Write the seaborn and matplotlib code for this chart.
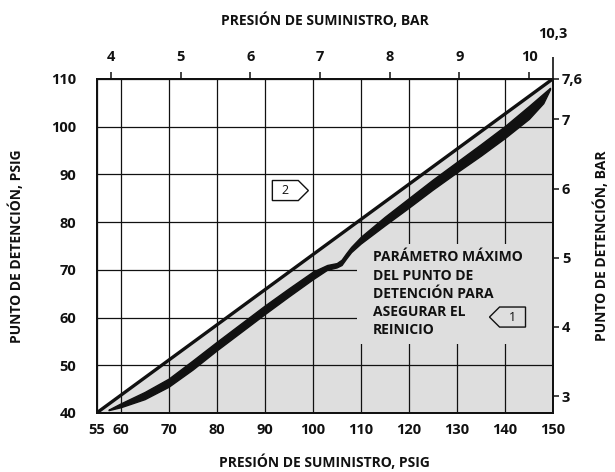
import matplotlib
matplotlib.use("Agg")
import matplotlib.pyplot as plt
import matplotlib.ticker as mticker
from matplotlib.patches import Polygon, Rectangle
import seaborn as sns
import pandas as pd

sns.set_theme(style="white")
plt.rcParams['font.family'] = ['Open Sans', 'DejaVu Sans']
plt.rcParams['font.weight'] = 'bold'

PSI_PER_BAR = 14.5038

# ---- data ----
x_ticks_psig = [55, 60, 70, 80, 90, 100, 110, 120, 130, 140, 150]
y_ticks_psig = [40, 50, 60, 70, 80, 90, 100, 110]
top_ticks_bar = [4, 5, 6, 7, 8, 9, 10]
top_end_label = "10,3"
right_ticks_bar = [3, 4, 5, 6, 7]
right_end_psig = 110
right_end_label = "7,6"

diag_x = [55, 150]
diag_y = [40, 110]

band_x =     [57.5, 60,   65,   70,   75,   80,   85,   90,   95,   100,  103,  105,  106,  107,  108,  110,  115,  120,  125,  130,  135,  140,   145,   148,   149.4]
band_upper = [40.7, 42.0, 44.4, 47.2, 51.0, 54.9, 58.7, 62.5, 66.1, 69.6, 71.0, 71.4, 72.1, 73.5, 74.8, 76.9, 81.1, 85.0, 88.9, 92.6, 96.3, 100.1, 104.3, 106.9, 108.1]
band_lower = [40.6, 41.2, 42.9, 45.5, 49.1, 53.1, 56.9, 60.7, 64.4, 68.0, 70.0, 70.5, 71.0, 72.4, 73.7, 75.5, 79.3, 83.0, 86.8, 90.4, 93.9, 97.6,  101.6, 104.9, 107.8]

note_lines = ["PARÁMETRO MÁXIMO", "DEL PUNTO DE", "DETENCIÓN PARA", "ASEGURAR EL", "REINICIO"]
note_x = 112.6
note_y = [72.6, 68.8, 65.0, 61.2, 57.4]
note_box = (109.3, 54.4, 150, 75.5)   # x0, y0, x1, y1 in psig

callouts = [("1", 141.6, 60.1, "left"), ("2", 94.3, 86.6, "right")]

df_diag = pd.DataFrame({"x": diag_x, "y": diag_y})

# ---- figure ----
fig = plt.figure(figsize=(6.15, 4.72), dpi=100)
ax = fig.add_axes([0.157, 0.125, 0.742, 0.708])
ax.set_xlim(55, 150)
ax.set_ylim(40, 110)

GRAY = "#dedede"
BLACK = "#111111"

# gray area under the diagonal
ax.fill_between(diag_x, [40, 40], diag_y, color=GRAY, lw=0, zorder=1)

# grid
ax.set_xticks(x_ticks_psig)
ax.set_yticks(y_ticks_psig)
ax.set_axisbelow('line')
ax.grid(True, color=BLACK, lw=0.9)

# note background box hiding grid
ax.add_patch(Rectangle((note_box[0], note_box[1]), note_box[2] - note_box[0],
                       note_box[3] - note_box[1], facecolor=GRAY, edgecolor='none', zorder=1.7))
for line, yy in zip(note_lines, note_y):
    ax.text(note_x, yy, line, fontsize=10, fontweight='bold',
            ha='left', va='center', color=BLACK, zorder=3)

# band
ax.fill_between(band_x, band_lower, band_upper, color=BLACK, lw=1.0, edgecolor=BLACK, zorder=2.2)

# diagonal
sns.lineplot(data=df_diag, x="x", y="y", ax=ax, color=BLACK, lw=2.4, zorder=3)
ax.set_xlabel("")
ax.set_ylabel("")

# callouts
w, h, p = 5.4, 4.2, 2.1
for lab, cx, cy, d in callouts:
    x0, x1 = cx - w / 2, cx + w / 2
    if d == "left":
        pts = [(x1, cy + h / 2), (x0, cy + h / 2), (x0 - p, cy), (x0, cy - h / 2), (x1, cy - h / 2)]
        fc = 'none'
    else:
        pts = [(x0, cy + h / 2), (x1, cy + h / 2), (x1 + p, cy), (x1, cy - h / 2), (x0, cy - h / 2)]
        fc = 'white'
    ax.add_patch(Polygon(pts, closed=True, facecolor=fc, edgecolor=BLACK, lw=1.0, zorder=3))
    ax.text(cx, cy, lab, fontsize=9, fontweight='normal', ha='center', va='center', color=BLACK, zorder=4)

# spines
for s in ax.spines.values():
    s.set_color(BLACK)
    s.set_linewidth(1.2)

ax.tick_params(axis='both', length=0, labelsize=10.5, colors=BLACK)
ax.tick_params(axis='y', pad=14.5)
ax.tick_params(axis='x', pad=7)
ax.set_xticklabels([str(v) for v in x_ticks_psig], fontweight='bold')
ax.set_yticklabels([str(v) for v in y_ticks_psig], fontweight='bold')

ax.set_xlabel("PRESIÓN DE SUMINISTRO, PSIG", fontsize=10, fontweight='bold', color=BLACK)
ax.xaxis.set_label_coords(0.5, -0.125)
ax.set_ylabel("PUNTO DE DETENCIÓN, PSIG", fontsize=10, fontweight='bold', color=BLACK)
ax.yaxis.set_label_coords(-0.158, 0.5)

# top axis (bar)
axt = ax.twiny()
axt.set_xlim(ax.get_xlim())
axt.set_xticks([b * PSI_PER_BAR for b in top_ticks_bar])
axt.set_xticklabels([str(b) for b in top_ticks_bar], fontweight='bold')
axt.xaxis.set_minor_locator(mticker.FixedLocator([150]))
axt.xaxis.set_minor_formatter(mticker.FixedFormatter([top_end_label]))
axt.tick_params(axis='x', which='major', direction='out', length=5, width=1.1, pad=6,
                labelsize=10.5, colors=BLACK)
axt.tick_params(axis='x', which='minor', direction='out', length=16, width=1.2, pad=11,
                labelsize=10.5, colors=BLACK)
for lbl in axt.xaxis.get_minorticklabels():
    lbl.set_fontweight('bold')
axt.set_xlabel("PRESIÓN DE SUMINISTRO, BAR", fontsize=10, fontweight='bold', color=BLACK)
axt.xaxis.set_label_coords(0.5, 1.16)

# right axis (bar)
axr = ax.twinx()
axr.set_ylim(ax.get_ylim())
axr.set_yticks([b * PSI_PER_BAR for b in right_ticks_bar] + [right_end_psig])
axr.set_yticklabels([str(b) for b in right_ticks_bar] + [right_end_label], fontweight='bold')
axr.tick_params(axis='y', direction='out', length=4.5, width=1.1, pad=2, labelsize=10.5, colors=BLACK)
axr.set_ylabel("PUNTO DE DETENCIÓN, BAR", fontsize=10, fontweight='bold', color=BLACK)
axr.yaxis.set_label_coords(1.09, 0.5)

for a in (axt, axr):
    for s in a.spines.values():
        s.set_color(BLACK)
        s.set_linewidth(1.2)
    a.grid(False)

fig.savefig("out.png", dpi=100)
